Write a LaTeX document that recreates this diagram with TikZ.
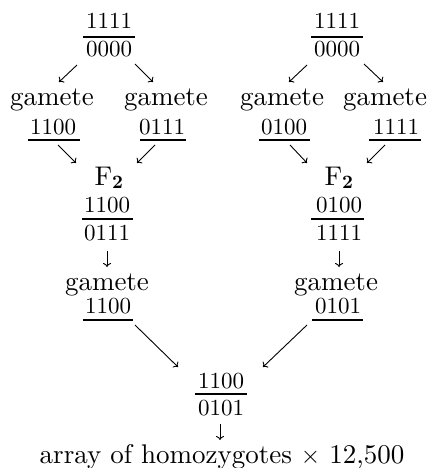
\documentclass[tikz,border=0pt]{standalone}
\usepackage{fontspec}
\setmainfont{lmroman10-regular.otf}[BoldFont=lmroman10-bold.otf]
\usetikzlibrary{arrows.meta}
\begin{document}
\begin{tikzpicture}[x=1pt,y=-1pt,
  wd/.style={anchor=base,inner sep=0pt,font=\fontsize{27}{31}\selectfont},
  num/.style={anchor=base,inner sep=0pt,font=\fontsize{23}{27}\selectfont},
  bar/.style={line width=1.3pt},
  arr/.style={-{To[length=4pt,width=8pt]},line width=0.9pt}]
\useasboundingbox (0,0) rectangle (437,468);

% ---------- left branch ----------
\node[num] (t1) at (109,29) {1111};
\node[num] (b1) at (109,57) {0000};
\draw[bar] (83,37) -- (135,37);
\node[wd] (gA) at (52,106) {gamete};
\node[wd] (gB) at (166,106) {gamete};
\node[num] (nA) at (53,134) {1100};
\node[num] (nB) at (162,134) {0111};
\draw[bar] (28,140) -- (80,140);
\draw[bar] (140,140) -- (186,140);
\node[wd] (F2L) at (109,185) {F$_{\mathbf{2}}$};
\node[num] (fLt) at (107,212) {1100};
\draw[bar] (82,219) -- (133,219);
\node[num] (fLb) at (107,240) {0111};
\node[wd] (gC) at (107,290) {gamete};
\node[num] (nC) at (108,313) {1100};
\draw[bar] (83,320) -- (133,320);

\coordinate (a1s) at (77,65);  \coordinate (a1e) at (59,82);
\coordinate (a2s) at (135,64); \coordinate (a2e) at (153,82);
\coordinate (a3s) at (58,145); \coordinate (a3e) at (76,163);
\coordinate (a4s) at (155,145);\coordinate (a4e) at (137,163);
\coordinate (a5s) at (107,251);\coordinate (a5e) at (107,267);
\draw[arr] (a1s) -- (a1e);
\draw[arr] (a2s) -- (a2e);
\draw[arr] (a3s) -- (a3e);
\draw[arr] (a4s) -- (a4e);
\draw[arr] (a5s) -- (a5e);

% ---------- right branch ----------
\node[num] (t2) at (337,29) {1111};
\node[num] (b2) at (337,57) {0000};
\draw[bar] (311,37) -- (363,37);
\node[wd] (gD) at (282,106) {gamete};
\node[wd] (gE) at (385,106) {gamete};
\node[num] (nD) at (284,134) {0100};
\node[num] (nE) at (396,134) {1111};
\draw[bar] (259,140) -- (310,140);
\draw[bar] (369,140) -- (421,140);
\node[wd] (F2R) at (339,185) {F$_{\mathbf{2}}$};
\node[num] (fRt) at (339,212) {0100};
\draw[bar] (311,219) -- (364,219);
\node[num] (fRb) at (339,240) {1111};
\node[wd] (gF) at (336,290) {gamete};
\node[num] (nF) at (338,313) {0101};
\draw[bar] (312,320) -- (363,320);

\coordinate (b1s) at (307,65);  \coordinate (b1e) at (289,82);
\coordinate (b2s) at (364,64);  \coordinate (b2e) at (383,82);
\coordinate (b3s) at (290,145); \coordinate (b3e) at (307,163);
\coordinate (b4s) at (385,145); \coordinate (b4e) at (367,163);
\coordinate (b5s) at (339,251); \coordinate (b5e) at (339,267);
\draw[arr] (b1s) -- (b1e);
\draw[arr] (b2s) -- (b2e);
\draw[arr] (b3s) -- (b3e);
\draw[arr] (b4s) -- (b4e);
\draw[arr] (b5s) -- (b5e);

% ---------- bottom ----------
\coordinate (c1s) at (135,325); \coordinate (c1e) at (178,367);
\coordinate (c2s) at (307,325); \coordinate (c2e) at (263,367);
\draw[arr] (c1s) -- (c1e);
\draw[arr] (c2s) -- (c2e);
\node[num] (t3) at (221,388) {1100};
\draw[bar] (195,394) -- (247,394);
\node[num] (b3) at (221,415) {0101};
\coordinate (c3s) at (220,424); \coordinate (c3e) at (220,440);
\draw[arr] (c3s) -- (c3e);
\node[wd] (res) at (222,463) {array of homozygotes $\times$ 12,500};
\end{tikzpicture}
\end{document}
